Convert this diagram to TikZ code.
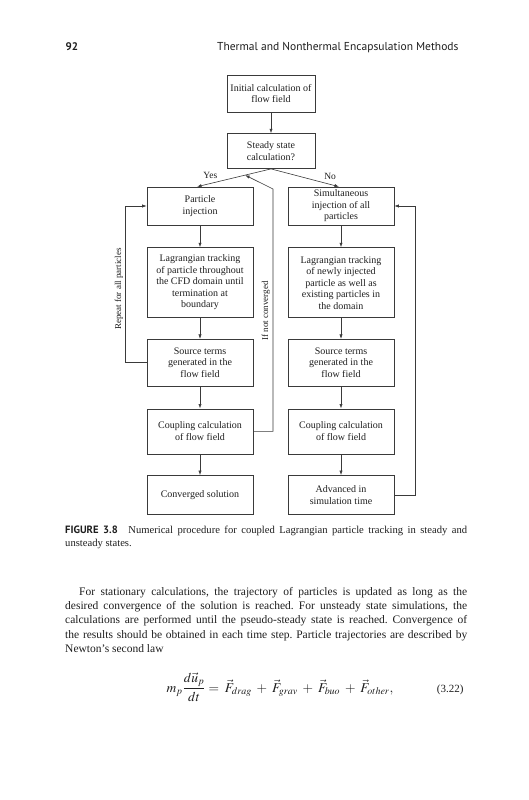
\documentclass[tikz,border=0pt]{standalone}
\usepackage{mathptmx}
\usepackage{fontspec}
\setmainfont{Liberation Serif}
\newfontfamily\headfont{PT Sans}
\usepackage{xcolor}
\usepackage{tikz}
\usetikzlibrary{positioning, arrows.meta, calc}
\definecolor{linegray}{HTML}{3A3A3A}
\definecolor{inkgray}{HTML}{1E1E1E}
\frenchspacing

\tikzset{
    procbox/.style={draw=linegray, line width=0.6pt, align=center, inner sep=2pt,
          font=\fontsize{10}{11.5}\selectfont, text=inkgray, minimum width=106pt},
    flowline/.style={draw=linegray, line width=0.6pt},
    flowarrow/.style={flowline, -{Latex[length=4.5pt, width=3.2pt]}},
    sidelabel/.style={font=\fontsize{9}{11}\selectfont, text=inkgray, rotate=90, inner sep=0pt},
    pagetext/.style={anchor=north west, text width=402pt, align=justify, inner sep=0pt, text=inkgray}
}

\begin{document}
\begin{tikzpicture}[x=1pt, y=-1pt]
    \useasboundingbox (0,0) rectangle (528,800);

    \node[anchor=base west, text=inkgray, font=\headfont\bfseries\fontsize{11}{13}\selectfont] (pageno) at (62,51) {92};
    \node[anchor=base east, text=inkgray, font=\headfont\fontsize{11.5}{13}\selectfont] (runhead) at (462,51) {Thermal and Nonthermal Encapsulation Methods};

    \node[procbox, minimum width=88pt, minimum height=37pt] (init) at (271,93.5) {Initial calculation of\\flow field};
    \node[procbox, minimum width=88pt, minimum height=35pt, below=21pt of init] (steady) {Steady state\\calculation?};

    \node[procbox, minimum height=38pt] (inject) at (200,206) {Particle\\injection};
    \node[procbox, minimum height=70pt, below=22pt of inject] (trackL) {Lagrangian tracking\\of particle throughout\\the CFD domain until\\termination at\\boundary};
    \node[procbox, minimum height=47pt, below=21pt of trackL] (sourceL) {Source terms\\generated in the\\flow field};
    \node[procbox, minimum height=45pt, below=22pt of sourceL] (coupleL) {Coupling calculation\\of flow field};
    \node[procbox, minimum height=39pt, below=21pt of coupleL] (convL) {Converged solution};

    \node[procbox, minimum height=38pt] (simul) at (341,206) {Simultaneous\\injection of all\\particles};
    \node[procbox, minimum height=70pt, below=22pt of simul] (trackR) {Lagrangian tracking\\of newly injected\\particle as well as\\existing particles in\\the domain};
    \node[procbox, minimum height=47pt, below=21pt of trackR] (sourceR) {Source terms\\generated in the\\flow field};
    \node[procbox, minimum height=45pt, below=22pt of sourceR] (coupleR) {Coupling calculation\\of flow field};
    \node[procbox, minimum height=39pt, below=21pt of coupleR] (advR) {Advanced in\\simulation time};

    \draw[flowarrow] (init) -- (steady);
    \draw[flowarrow] (steady.south) -- node[pos=0.82, above=1pt, font=\fontsize{9.5}{11.5}\selectfont, text=inkgray] {Yes} ([xshift=-3pt]inject.north);
    \draw[flowarrow] (steady.south) -- node[pos=0.87, above=1pt, font=\fontsize{9.5}{11.5}\selectfont, text=inkgray] {No} ([xshift=-2pt]simul.north);

    \draw[flowarrow] (inject) -- (trackL);
    \draw[flowarrow] (trackL) -- (sourceL);
    \draw[flowarrow] (sourceL) -- (coupleL);
    \draw[flowarrow] (coupleL) -- (convL);
    \draw[flowarrow] (simul) -- (trackR);
    \draw[flowarrow] (trackR) -- (sourceR);
    \draw[flowarrow] (sourceR) -- (coupleR);
    \draw[flowarrow] (coupleR) -- (advR);

    \coordinate (backtip) at ($(steady.south)!0.35!([xshift=-3pt]inject.north)$);
    \coordinate (backbend) at (273,189);
    \draw[flowarrow] (coupleL.east) -- (coupleL.east -| backbend) -- (backbend) -- (backtip);
    \node[sidelabel] (notconv) at (266,311) {If not converged};

    \draw[flowarrow] (sourceL.west) -- ++(-21pt,0) |- (inject.west);
    \node[sidelabel] (repeat) at (119,289) {Repeat for all particles};
    \draw[flowarrow] (advR.east) -- ++(21pt,0) |- (simul.east);

    \node[pagetext, font=\fontsize{10.6}{13}\selectfont] (caption) at (65,526) {{\headfont\bfseries FIGURE 3.8}\quad Numerical procedure for coupled Lagrangian particle tracking in steady and\linebreak unsteady states.};

    \node[pagetext, font=\fontsize{11.5}{14.3}\selectfont] (body) at (65,587) {\hspace*{14pt}For stationary calculations, the trajectory of particles is updated as long as the\linebreak desired convergence of the solution is reached. For unsteady state simulations, the\linebreak calculations are performed until the pseudo-steady state is reached. Convergence of\linebreak the results should be obtained in each time step. Particle trajectories are described by\linebreak Newton's second law};

    \node[anchor=base, text=inkgray, font=\fontsize{13.5}{15}\selectfont] (eqn) at (280,692) {$\displaystyle m_p\frac{d\vec{u}_p}{dt} \mathrel{=}\; \vec{F}_{drag} \;+\; \vec{F}_{grav} \;+\; \vec{F}_{buo} \;+\; \vec{F}_{other},$};
    \node[anchor=base east, text=inkgray, font=\fontsize{11}{13}\selectfont] (eqno) at (467,692) {(3.22)};
\end{tikzpicture}
\end{document}
